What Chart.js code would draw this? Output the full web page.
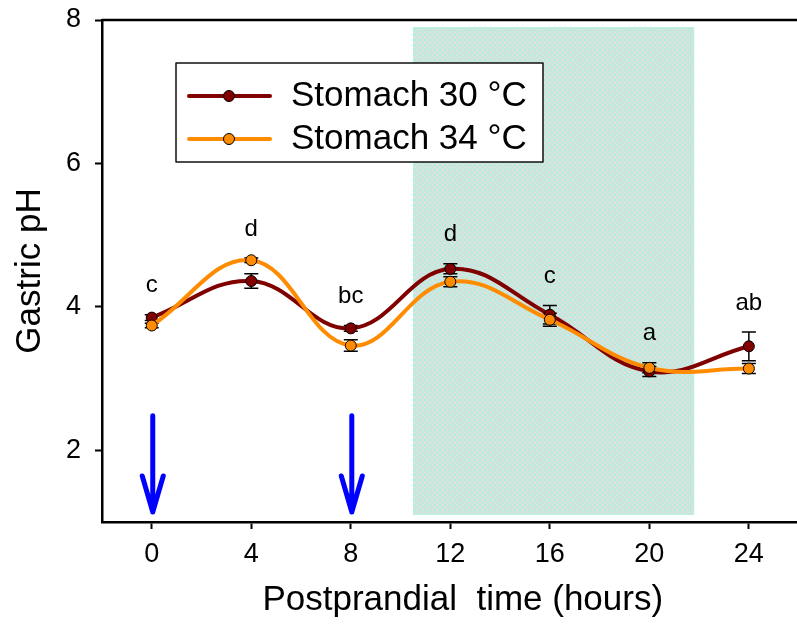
<!DOCTYPE html>
<html>
<head>
<meta charset="utf-8">
<script src="https://cdn.jsdelivr.net/npm/chart.js@4.4.0/dist/chart.umd.min.js"></script>
<style>
  html, body { margin: 0; padding: 0; background: #fff; overflow: hidden; }
  #wrap { width: 797px; height: 625px; overflow: hidden; }
</style>
</head>
<body>
<div id="wrap"><canvas id="phChart" width="830" height="625"></canvas></div>
<script>
// values
const hours = [0, 4, 8, 12, 16, 20, 24];
const ph30 = [3.85, 4.36, 3.70, 4.53, 3.89, 3.10, 3.45];
const ph30Err = [0.04, 0.10, 0.04, 0.07, 0.13, 0.07, 0.20];
const ph34 = [3.74, 4.65, 3.46, 4.35, 3.82, 3.15, 3.14];
const ph34Err = [0.03, 0.03, 0.08, 0.07, 0.09, 0.07, 0.07];
const letters = ["c", "d", "bc", "d", "c", "a", "ab"];
const xTicks = [0, 4, 8, 12, 16, 20, 24];
const yTicks = [2, 4, 6, 8];
const feedTimes = [0, 8];
const darkPeriod = [10.5, 21.8];

const FONT = "'Liberation Sans', Arial, sans-serif";
const DARK = "#800000";
const ORANGE = "#ff8c00";

function hatchPattern(ctx) {
  const s = 5;
  const pc = document.createElement("canvas");
  pc.width = s; pc.height = s;
  const g = pc.getContext("2d");
  g.fillStyle = "#dfdfdf";
  g.fillRect(0, 0, s, s);
  g.strokeStyle = "#a6f2da";
  g.lineWidth = 1;
  g.beginPath();
  g.moveTo(-1, -1); g.lineTo(s + 1, s + 1);
  g.moveTo(s + 1, -1); g.lineTo(-1, s + 1);
  g.stroke();
  return ctx.createPattern(pc, "repeat");
}

const extras = {
  id: "extras",
  beforeDatasetsDraw(chart) {
    const {ctx, scales: {x, y}} = chart;
    // shaded dark period
    ctx.save();
    const x0 = x.getPixelForValue(darkPeriod[0]);
    const x1 = x.getPixelForValue(darkPeriod[1]);
    const yt = y.getPixelForValue(7.9);
    const yb = y.getPixelForValue(1.1);
    ctx.fillStyle = hatchPattern(ctx);
    ctx.fillRect(x0, yt, x1 - x0, yb - yt);
    ctx.strokeStyle = "#b4f4e0";
    ctx.lineWidth = 1;
    ctx.strokeRect(x0 + 0.5, yt + 0.5, x1 - x0 - 1, yb - yt - 1);
    ctx.restore();

    // error bars (under the markers)
    ctx.save();
    ctx.strokeStyle = "#000";
    ctx.lineWidth = 1.5;
    const bars = [[ph30, ph30Err], [ph34, ph34Err]];
    for (const [vals, errs] of bars) {
      hours.forEach((h, i) => {
        const px = x.getPixelForValue(h);
        const top = y.getPixelForValue(vals[i] + errs[i]);
        const bot = y.getPixelForValue(vals[i] - errs[i]);
        ctx.beginPath();
        ctx.moveTo(px, top); ctx.lineTo(px, bot);
        ctx.moveTo(px - 7, top); ctx.lineTo(px + 7, top);
        ctx.moveTo(px - 7, bot); ctx.lineTo(px + 7, bot);
        ctx.stroke();
      });
    }
    ctx.restore();
  },
  afterDatasetsDraw(chart) {
    const {ctx, chartArea, scales: {x, y}} = chart;
    ctx.save();

    // significance letters
    ctx.fillStyle = "#000";
    ctx.font = "24px " + FONT;
    ctx.textAlign = "center";
    ctx.textBaseline = "middle";
    hours.forEach((h, i) => {
      const top = Math.min(y.getPixelForValue(ph30[i] + ph30Err[i]),
                           y.getPixelForValue(ph34[i] + ph34Err[i]));
      ctx.fillText(letters[i], x.getPixelForValue(h), top - 29);
    });

    // feeding arrows
    ctx.strokeStyle = "#0000ff";
    ctx.lineWidth = 5;
    ctx.lineCap = "round";
    ctx.lineJoin = "round";
    for (const t of feedTimes) {
      const px = x.getPixelForValue(t) + 1;
      const top = y.getPixelForValue(2.48);
      const tip = y.getPixelForValue(1.14);
      ctx.beginPath();
      ctx.moveTo(px, top); ctx.lineTo(px, tip);
      ctx.moveTo(px - 10.5, tip - 36); ctx.lineTo(px, tip); ctx.lineTo(px + 10.5, tip - 36);
      ctx.stroke();
    }

    // top frame line
    ctx.strokeStyle = "#000";
    ctx.lineWidth = 2.5;
    ctx.lineCap = "butt";
    ctx.beginPath();
    ctx.moveTo(chartArea.left, chartArea.top);
    ctx.lineTo(chartArea.right, chartArea.top);
    ctx.stroke();

    // legend box
    const bx = 176, by = 63, bw = 367, bh = 99;
    ctx.fillStyle = "#fff";
    ctx.fillRect(bx, by, bw, bh);
    ctx.strokeStyle = "#111";
    ctx.lineWidth = 1.5;
    ctx.strokeRect(bx, by, bw, bh);
    const entries = [["Stomach 30 °C", DARK, 96], ["Stomach 34 °C", ORANGE, 139]];
    for (const [label, col, ly] of entries) {
      ctx.strokeStyle = col;
      ctx.lineWidth = 4;
      ctx.lineCap = "round";
      ctx.beginPath();
      ctx.moveTo(189, ly); ctx.lineTo(270, ly);
      ctx.stroke();
      ctx.beginPath();
      ctx.arc(229, ly, 5.5, 0, Math.PI * 2);
      ctx.fillStyle = col;
      ctx.fill();
      ctx.strokeStyle = "#000";
      ctx.lineWidth = 1;
      ctx.stroke();
      ctx.fillStyle = "#000";
      ctx.font = "35px " + FONT;
      ctx.textAlign = "left";
      ctx.textBaseline = "middle";
      ctx.fillText(label, 291, ly);
    }
    ctx.restore();
  }
};

const series = (vals) => hours.map((h, i) => ({x: h, y: vals[i]}));

new Chart(document.getElementById("phChart"), {
  type: "line",
  data: {
    datasets: [{
      label: "Stomach 30 °C",
      data: series(ph30),
      borderColor: DARK,
      backgroundColor: DARK,
      pointBackgroundColor: DARK,
      pointBorderColor: "#000",
      pointBorderWidth: 1,
      pointRadius: 5.5,
      borderWidth: 4,
      tension: 0.4,
      order: 2
    }, {
      label: "Stomach 34 °C",
      data: series(ph34),
      borderColor: ORANGE,
      backgroundColor: ORANGE,
      pointBackgroundColor: ORANGE,
      pointBorderColor: "#000",
      pointBorderWidth: 1,
      pointRadius: 5.5,
      borderWidth: 4,
      tension: 0.4,
      order: 1
    }]
  },
  options: {
    responsive: false,
    animation: false,
    devicePixelRatio: 1,
    layout: { padding: { top: 20, right: 5, left: 0, bottom: 0 } },
    plugins: { legend: { display: false }, tooltip: { enabled: false } },
    scales: {
      x: {
        type: "linear",
        min: -2,
        max: 27,
        afterBuildTicks: (s) => { s.ticks = xTicks.map(v => ({value: v})); },
        afterFit: (s) => { s.height = 103; s.paddingLeft = 0; s.paddingRight = 0; },
        ticks: { color: "#000", font: { size: 27, family: FONT }, padding: 9, maxRotation: 0, autoSkip: false },
        grid: { drawOnChartArea: false, drawTicks: true, tickLength: 7, tickWidth: 2, tickColor: "#000" },
        border: { display: true, color: "#000", width: 2.5 },
        title: { display: true, text: "Postprandial  time (hours)", color: "#000",
                 font: { size: 35, family: FONT }, padding: { top: 0, bottom: 4 } }
      },
      y: {
        min: 1,
        max: 8,
        afterBuildTicks: (s) => { s.ticks = yTicks.map(v => ({value: v})); },
        afterFit: (s) => { s.width = 102; s.paddingTop = 0; s.paddingBottom = 0; },
        ticks: { color: "#000", font: { size: 27, family: FONT }, padding: 14 },
        grid: { drawOnChartArea: false, drawTicks: true, tickLength: 7, tickWidth: 2, tickColor: "#000" },
        border: { display: true, color: "#000", width: 2.5 },
        title: { display: true, text: "Gastric pH", color: "#000",
                 font: { size: 35, family: FONT }, padding: { top: 9, bottom: 0 } }
      }
    }
  },
  plugins: [extras]
});
</script>
</body>
</html>
